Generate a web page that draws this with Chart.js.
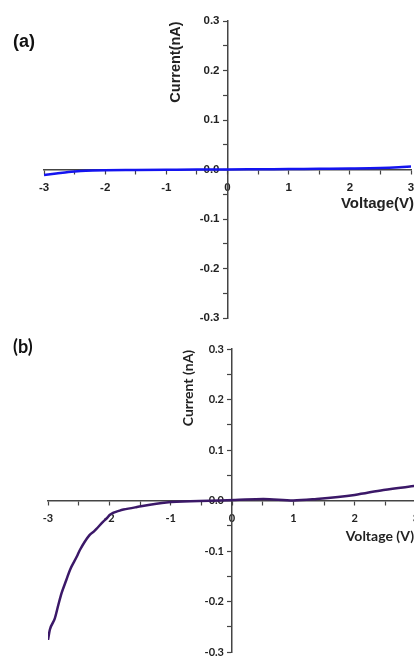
<!DOCTYPE html>
<html>
<head>
<meta charset="utf-8">
<script src="https://cdn.jsdelivr.net/npm/chart.js@4.4.1/dist/chart.umd.min.js"></script>
<style>
html, body { margin:0; padding:0; background:#fff; width:414px; height:657px; overflow:hidden; }
.panel { position:absolute; left:0; }
#wrapA { top:0; }
#wrapB { top:330px; }
.tag { position:absolute; font-weight:bold; font-size:18px; color:#111; }
#tagA { left:13px; top:31px; font-family:"Liberation Sans", Arial, sans-serif; }
#tagB { left:13px; top:335px; font-family:Lato, "Open Sans", sans-serif; }
</style>
</head>
<body>
<div class="panel" id="wrapA"><canvas id="chartA" width="430" height="340"></canvas></div>
<div class="panel" id="wrapB"><canvas id="chartB" width="430" height="340"></canvas></div>
<div class="tag" id="tagA">(a)</div>
<div class="tag" id="tagB">(b)</div>
<script>
// ---- data ----
var voltageA = [-3, -2.8, -2.6, -2.4, -2.2, -2, -1.5, -1, -0.5, 0, 0.5, 1, 1.5, 2, 2.5, 2.8, 3];
var currentA = [-0.011, -0.008, -0.005, -0.003, -0.002, -0.0015, -0.001, -0.0005, 0, 0, 0.0005, 0.001, 0.0015, 0.002, 0.003, 0.0045, 0.006];

var voltageB = [-3.0, -2.97, -2.89, -2.83, -2.78, -2.70, -2.64, -2.53, -2.48, -2.32, -2.25, -2.21, -2.10, -2.04, -1.99, -1.83, -1.77, -1.55, -1.07, -0.53, 0.05, 0.51, 1.0, 1.38, 2.0, 2.47, 3.0];
var currentB = [-0.276, -0.256, -0.234, -0.206, -0.184, -0.157, -0.137, -0.111, -0.098, -0.068, -0.061, -0.056, -0.042, -0.035, -0.028, -0.020, -0.018, -0.013, -0.004, -0.001, 0.001, 0.003, 0.0, 0.003, 0.011, 0.021, 0.029];

var xTicks = [-3, -2, -1, 0, 1, 2, 3];
var yTicks = [-0.3, -0.2, -0.1, 0.0, 0.1, 0.2, 0.3];

function toPoints(xs, ys) {
  return xs.map(function(v, i){ return {x: v, y: ys[i]}; });
}

// draw the axis titles next to the crossing axes
var axisTitles = {
  id: 'axisTitles',
  afterDraw: function(chart, args, o) {
    var ctx = chart.ctx, x = chart.scales.x, y = chart.scales.y;
    var x0 = x.getPixelForValue(0), y0 = y.getPixelForValue(0);
    ctx.save();
    ctx.fillStyle = '#222';
    ctx.font = o.font;
    ctx.textBaseline = 'middle';
    ctx.textAlign = 'right';
    ctx.fillText(o.xText, o.xRight, y0 + o.xDy);
    ctx.font = o.yFont;
    ctx.translate(x0 + o.yDx, y.getPixelForValue(yTicks[yTicks.length-1]) + o.yDy);
    ctx.rotate(-Math.PI / 2);
    ctx.textAlign = 'center';
    ctx.fillText(o.yText, 0, 0);
    ctx.restore();
  }
};

function makeChart(id, xs, ys, color, family, pad, titles, tickSize) {
  var tickFont = {family: family, size: tickSize, weight: 'bold'};
  return new Chart(document.getElementById(id), {
    type: 'scatter',
    data: {
      datasets: [{
        data: toPoints(xs, ys),
        showLine: true,
        borderColor: color,
        borderWidth: 2.5,
        pointRadius: 0,
        cubicInterpolationMode: 'monotone',
      }],
    },
    options: {
      responsive: false,
      animation: false,
      layout: {padding: pad},
      plugins: {legend: {display: false}, tooltip: {enabled: false}, axisTitles: titles},
      scales: {
        x: {
          type: 'linear',
          min: xTicks[0], max: xTicks[xTicks.length-1],
          position: 'center',
          afterFit: function(s){ s.height = 0; },
          ticks: {
            stepSize: 0.5, autoSkip: false, maxRotation: 0, padding: 7,
            color: '#222', font: tickFont,
            callback: function(v){ return Number.isInteger(v) ? String(v) : ''; },
          },
          grid: {drawOnChartArea: false, tickLength: 4, tickColor: '#444', tickWidth: 1.2},
          border: {color: '#444', width: 1.5},
        },
        y: {
          type: 'linear',
          min: yTicks[0], max: yTicks[yTicks.length-1],
          position: 'center',
          afterFit: function(s){ s.width = 0; },
          ticks: {
            stepSize: 0.05, autoSkip: false, padding: 4,
            color: '#222', font: tickFont,
            callback: function(v){
              var t = Math.round(v * 10);
              return Math.abs(v * 10 - t) < 1e-6 ? (t / 10).toFixed(1) : '';
            },
          },
          grid: {drawOnChartArea: false, tickLength: 4, tickColor: '#444', tickWidth: 1.2},
          border: {color: '#444', width: 1.5},
        },
      },
    },
    plugins: [axisTitles],
  });
}

makeChart('chartA', voltageA, currentA, '#1414f0', '"Liberation Sans", Arial, sans-serif',
  {left: 44, right: 19, top: 21, bottom: 22},
  {font: 'bold 15px "Liberation Sans", Arial, sans-serif', yFont: 'bold 14.5px "Liberation Sans", Arial, sans-serif',
   xText: 'Voltage(V)', yText: 'Current(nA)', xRight: 414, xDy: 34, yDx: -52, yDy: 41}, 11.5);

makeChart('chartB', voltageB, currentB, '#3b1868', 'Lato, "Open Sans", sans-serif',
  {left: 48, right: 14, top: 19, bottom: 18},
  {font: 'bold 14px Lato, "Open Sans", sans-serif', yFont: 'bold 14px Lato, "Open Sans", sans-serif',
   xText: 'Voltage (V)', yText: 'Current (nA)', xRight: 414, xDy: 36, yDx: -44, yDy: 39}, 11);
</script>
</body>
</html>
